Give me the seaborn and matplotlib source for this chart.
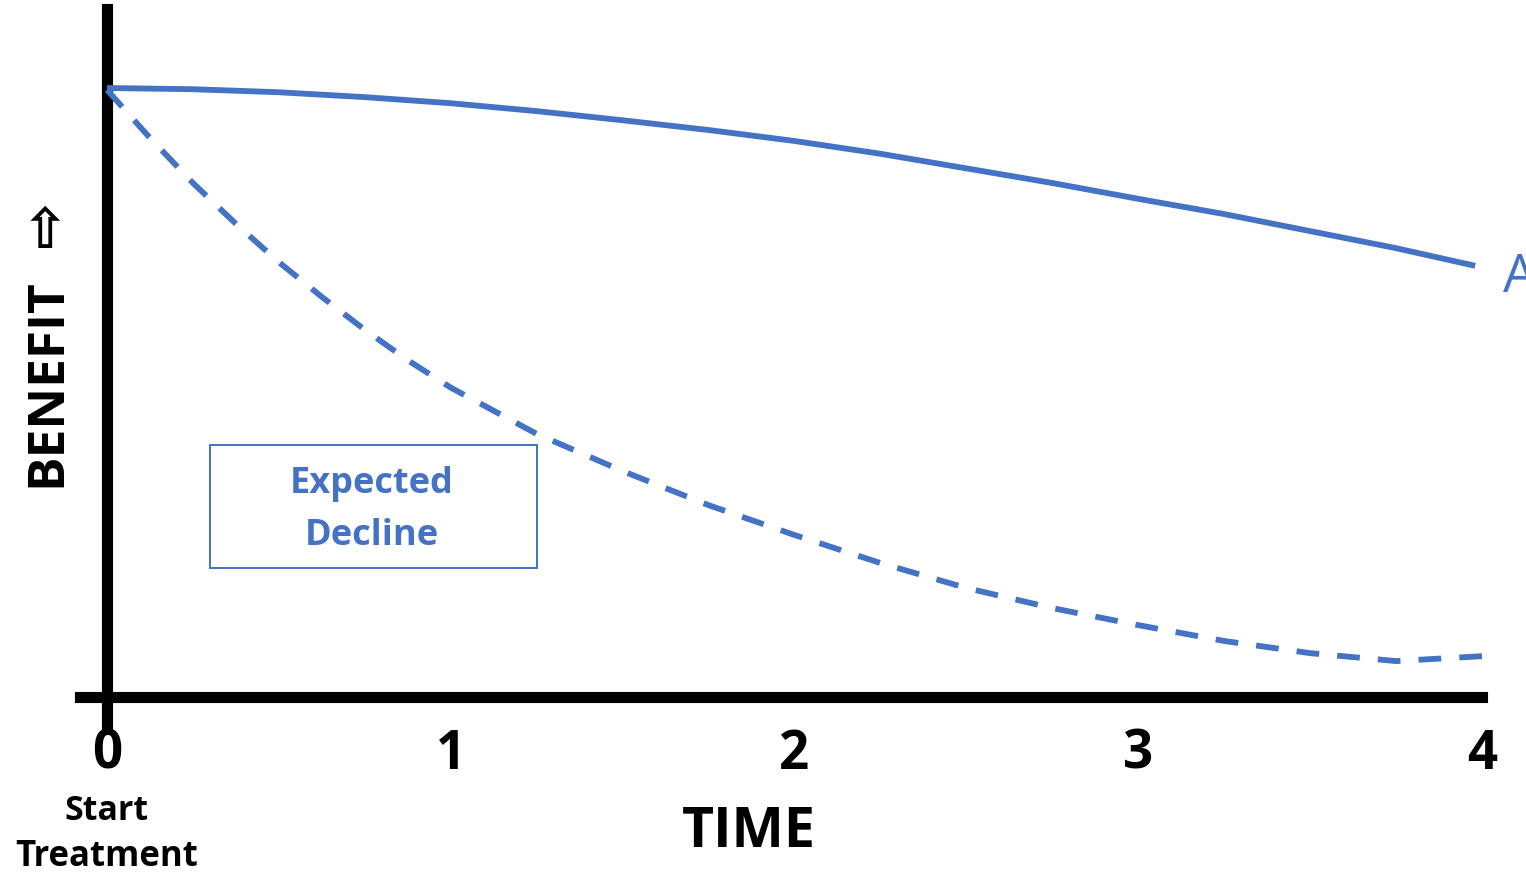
import matplotlib
matplotlib.use("Agg")
import matplotlib.pyplot as plt
import seaborn as sns
from matplotlib.patches import Rectangle

# ---- data ----
time_a = [0, 0.25, 0.5, 0.75, 1, 1.25, 1.5, 1.75, 2, 2.25, 2.5, 2.75, 3, 3.25, 3.5, 3.75, 3.98]
benefit_a = [10.0, 9.98, 9.93, 9.85, 9.75, 9.62, 9.47, 9.31, 9.13, 8.92, 8.68, 8.44, 8.18, 7.93, 7.65, 7.37, 7.08]

time_exp = [0, 0.125, 0.25, 0.375, 0.5, 0.625, 0.75, 0.875, 1, 1.25, 1.5, 1.75, 2,
            2.25, 2.5, 2.75, 3, 3.25, 3.5, 3.75, 4]
benefit_exp = [9.97, 9.18, 8.44, 7.77, 7.14, 6.57, 6.03, 5.53, 5.08, 4.32, 3.71, 3.15, 2.66,
               2.20, 1.79, 1.46, 1.18, 0.92, 0.72, 0.59, 0.67]

x_ticks = [0, 1, 2, 3, 4]
x_tick_labels = ["0", "1", "2", "3", "4"]

BLUE = "#4472C4"
W, H = 1526, 875

sns.set_theme(style="white")
plt.rcParams["font.family"] = ["Open Sans", "DejaVu Sans"]
plt.rcParams["text.color"] = "black"

fig = plt.figure(figsize=(W / 100, H / 100), dpi=100)
ax = fig.add_axes([0, 0, 1, 1])

# pixel mapping: x=0 -> px 107, x=4 -> px 1482 ; y=0 -> px 697 (from top), y=10 -> px 88
ux = (1482 - 107) / 4
uy = (697 - 88) / 10
ax.set_xlim(-107 / ux, (W - 107) / ux)
ax.set_ylim(-(H - 697) / uy, 697 / uy)

sns.lineplot(x=time_a, y=benefit_a, ax=ax, color=BLUE, lw=4.2, legend=False,
             zorder=3, solid_capstyle="butt")
sns.lineplot(x=time_exp, y=benefit_exp, ax=ax, color=BLUE, lw=4.2, legend=False,
             zorder=3, linestyle=(0, (3.9, 3.1)), dash_capstyle="butt")

# axes lines
for s in ["top", "right"]:
    ax.spines[s].set_visible(False)
ax.spines["left"].set_position(("data", 0))
ax.spines["bottom"].set_position(("data", 0))
ax.spines["left"].set_linewidth(8)
ax.spines["bottom"].set_linewidth(8)
ax.spines["left"].set_color("black")
ax.spines["bottom"].set_color("black")
ax.spines["left"].set_bounds(-(727 - 697) / uy, (697 - 9) / uy)
ax.spines["bottom"].set_bounds(-(107 - 80) / ux, 4.0)

ax.set_yticks([])
ax.set_xticks(x_ticks)
ax.set_xticklabels(x_tick_labels, fontsize=38, fontweight="bold", color="black")
ax.tick_params(axis="x", length=0, pad=22, labelcolor="black")
ax.grid(False)

def fx(px):
    return px / W

def fy(py):
    return 1 - py / H

fig.text(fx(749), fy(847), "TIME", fontsize=40, fontweight="bold", color="black",
         ha="center", va="baseline")
fig.text(fx(106), fy(820), "Start", fontsize=24.5, fontweight="bold", color="black",
         ha="center", va="baseline")
fig.text(fx(107), fy(866), "Treatment", fontsize=25, fontweight="bold", color="black",
         ha="center", va="baseline")

fig.text(fx(60), fy(383), "BENEFIT", fontsize=37, fontweight="bold", color="black",
         rotation=90, rotation_mode="anchor", ha="center", va="baseline")
fig.text(fx(45), fy(233), "\u21E7", fontsize=40, family="DejaVu Sans", fontweight="bold",
         color="black", ha="center", va="center")

fig.text(fx(1503), fy(292), "A", fontsize=38, color=BLUE, ha="left", va="baseline")

fig.add_artist(Rectangle((fx(210), fy(568)), (537 - 210) / W, (568 - 445) / H,
                         transform=fig.transFigure, fill=True, facecolor="white",
                         edgecolor=BLUE, lw=1.4, zorder=4))
fig.text(fx(372), fy(493), "Expected", fontsize=26, fontweight="bold", color=BLUE,
         ha="center", va="baseline", zorder=5)
fig.text(fx(372), fy(545), "Decline", fontsize=26, fontweight="bold", color=BLUE,
         ha="center", va="baseline", zorder=5)

fig.savefig("out.png", dpi=100)
